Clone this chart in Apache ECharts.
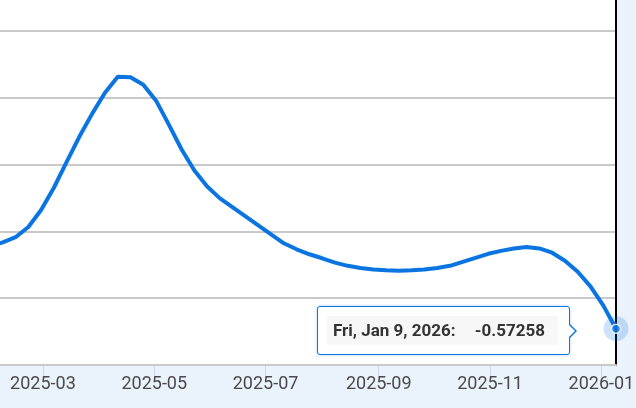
<!DOCTYPE html>
<html>
<head>
<meta charset="utf-8">
<script src="https://cdn.jsdelivr.net/npm/echarts@6/dist/echarts.min.js"></script>
<style>
  html, body { margin: 0; padding: 0; background: #eaf2fb; }
  #chart { width: 636px; height: 408px; }
</style>
</head>
<body>
<div id="chart"></div>
<script>
// weekly observations (Fridays)
const dates = [
  '2025-01-31', '2025-02-07', '2025-02-14', '2025-02-21', '2025-02-28',
  '2025-03-07', '2025-03-14', '2025-03-21', '2025-03-28', '2025-04-04',
  '2025-04-11', '2025-04-18', '2025-04-25', '2025-05-02', '2025-05-09',
  '2025-05-16', '2025-05-23', '2025-05-30', '2025-06-06', '2025-06-13',
  '2025-06-20', '2025-06-27', '2025-07-04', '2025-07-11', '2025-07-18',
  '2025-07-25', '2025-08-01', '2025-08-08', '2025-08-15', '2025-08-22',
  '2025-08-29', '2025-09-05', '2025-09-12', '2025-09-19', '2025-09-26',
  '2025-10-03', '2025-10-10', '2025-10-17', '2025-10-24', '2025-10-31',
  '2025-11-07', '2025-11-14', '2025-11-21', '2025-11-28', '2025-12-05',
  '2025-12-12', '2025-12-19', '2025-12-26', '2026-01-02', '2026-01-09'
];
const values = [
  0.970, 1.045, 1.140, 1.330, 1.650,
  2.065, 2.550, 3.022, 3.452, 3.843,
  4.142, 4.131, 3.993, 3.694, 3.246,
  2.780, 2.388, 2.090, 1.866, 1.698,
  1.530, 1.362, 1.194, 1.026, 0.914,
  0.821, 0.746, 0.665, 0.605, 0.565,
  0.535, 0.522, 0.515, 0.522, 0.535,
  0.565, 0.605, 0.680, 0.755, 0.830,
  0.885, 0.930, 0.955, 0.930, 0.850,
  0.700, 0.495, 0.220, -0.135, -0.57258
];
const xMin = '2025-01-31';
const xMax = '2026-01-09';
const yMin = -1.25;
const yMax = 6.25;
const yStep = 1.25;

const lineColor = '#0a74e0';
const dayNames = ['Sun', 'Mon', 'Tue', 'Wed', 'Thu', 'Fri', 'Sat'];
const monNames = ['Jan', 'Feb', 'Mar', 'Apr', 'May', 'Jun', 'Jul', 'Aug', 'Sep', 'Oct', 'Nov', 'Dec'];

function toUTC(s) {
  const p = s.split('-');
  return Date.UTC(+p[0], +p[1] - 1, +p[2]);
}

const points = dates.map((d, i) => [toUTC(d), values[i]]);
const last = points[points.length - 1];

const chart = echarts.init(document.getElementById('chart'));
const option = {
  animation: false,
  useUTC: true,
  backgroundColor: '#eaf2fb',
  grid: {
    left: -10,
    right: 20,
    top: -36,
    bottom: 43,
    show: true,
    backgroundColor: '#ffffff',
    borderWidth: 0,
    outerBoundsMode: 'none'
  },
  tooltip: {
    trigger: 'axis',
    axisPointer: { type: 'none' },
    alwaysShowContent: true,
    transitionDuration: 0,
    padding: 0,
    borderWidth: 0,
    backgroundColor: 'transparent',
    extraCssText: 'box-shadow:none;',
    position: function () { return [317, 306]; },
    formatter: function (params) {
      const p = params[0];
      const dt = new Date(p.value[0]);
      const label = dayNames[dt.getUTCDay()] + ', ' + monNames[dt.getUTCMonth()] + ' ' +
        dt.getUTCDate() + ', ' + dt.getUTCFullYear() + ':';
      return '<div style="position:relative;background:#fff;border:1px solid ' + lineColor +
        ';border-radius:3px;padding:9px 11px 9px 9px;box-shadow:0 0 3px rgba(10,116,224,0.35);">' +
        '<div style="display:flex;justify-content:space-between;width:212px;background:#f7f7f7;' +
        'padding:4px 13px 5px 6px;line-height:20px;' +
        'font:bold 17px Roboto, sans-serif;color:#333;white-space:nowrap;">' +
        '<span>' + label + '</span><span>' + p.value[1] + '</span></div>' +
        '<div style="position:absolute;right:-8px;top:50%;margin-top:-8px;width:0;height:0;' +
        'border-top:8px solid transparent;border-bottom:8px solid transparent;border-left:8px solid ' +
        lineColor + ';"></div>' +
        '<div style="position:absolute;right:-6px;top:50%;margin-top:-7px;width:0;height:0;' +
        'border-top:7px solid transparent;border-bottom:7px solid transparent;border-left:7px solid #fff;"></div>' +
        '</div>';
    }
  },
  xAxis: {
    type: 'time',
    min: toUTC(xMin),
    max: toUTC(xMax),
    splitNumber: 5,
    axisLine: { show: true, onZero: false, lineStyle: { color: '#c9c9c9', width: 2 } },
    axisTick: { show: true, length: 13, lineStyle: { color: '#c8d5e8', width: 1 } },
    splitLine: { show: false },
    axisLabel: {
      formatter: '{yyyy}-{MM}',
      color: '#4a4a4a',
      fontSize: 18,
      fontFamily: 'Roboto',
      margin: 10
    }
  },
  yAxis: {
    type: 'value',
    position: 'right',
    min: yMin,
    max: yMax,
    interval: yStep,
    axisLine: { show: true, lineStyle: { color: '#000', width: 2 } },
    axisTick: { show: false },
    axisLabel: { show: false },
    splitLine: { show: true, lineStyle: { color: '#c9c9c9', width: 2 } }
  },
  series: [
    {
      type: 'line',
      data: points,
      symbol: 'none',
      lineStyle: { color: lineColor, width: 4 },
      emphasis: { disabled: true },
      z: 3
    },
    {
      type: 'scatter',
      data: [last],
      symbolSize: 25,
      itemStyle: { color: 'rgba(10,116,224,0.25)' },
      silent: true,
      tooltip: { show: false },
      z: 4
    },
    {
      type: 'scatter',
      data: [last],
      symbolSize: 9,
      itemStyle: { color: lineColor, borderColor: '#fff', borderWidth: 1.5 },
      silent: true,
      tooltip: { show: false },
      z: 5
    }
  ]
};
chart.setOption(option);
chart.dispatchAction({ type: 'showTip', seriesIndex: 0, dataIndex: points.length - 1 });
</script>
</body>
</html>
